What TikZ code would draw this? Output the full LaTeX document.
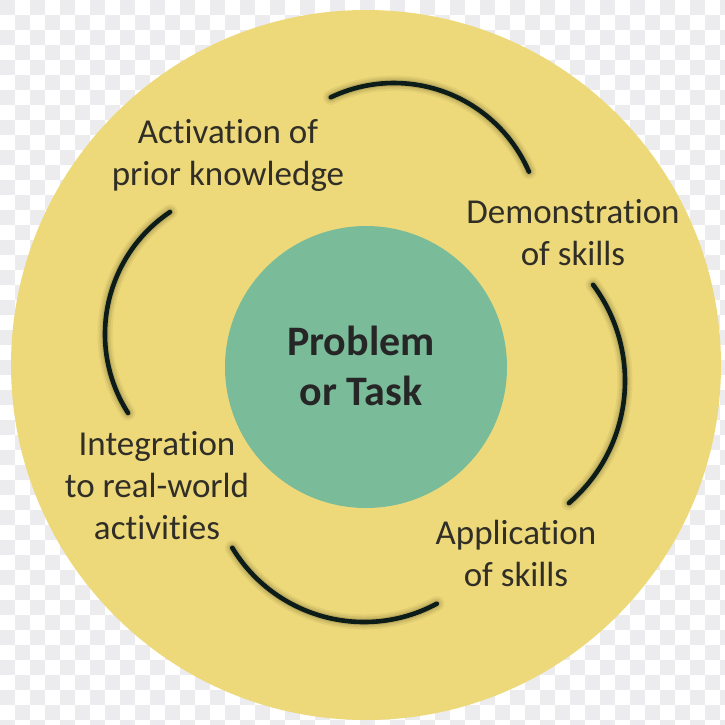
\documentclass[tikz,border=0pt]{standalone}
\usepackage{fontspec}
\setmainfont{Carlito}[Ligatures={NoCommon,NoContextual}]
\definecolor{bgyellow}{RGB}{237,217,122}
\definecolor{corecol}{RGB}{122,188,154}
\definecolor{arccol}{RGB}{12,28,24}
\definecolor{txtcol}{RGB}{48,46,38}
\definecolor{chkcol}{RGB}{236,236,238}
\definecolor{shadowcol}{RGB}{70,60,20}
\tikzset{
  label/.style={align=center, text=txtcol, font=\fontsize{35}{42}\selectfont, inner sep=0pt},
  corelabel/.style={align=center, text=black!85, font=\fontsize{42}{50}\selectfont\bfseries, inner sep=0pt},
  cyclearc/.style={draw=arccol, line width=4.6pt, line cap=round},
  arcshadow/.style={draw=shadowcol, line cap=round},
}
% arc round centre c, radius r, from angle a to angle b (image convention, y down)
\newcommand{\cyclearcpath}[4]{(#1) ++(#3:#2) arc[start angle=#3, end angle=#4, radius=#2]}
\newcommand{\shadowedarc}[4]{%
  \begin{scope}[shift={(4,4)}]
    \draw[arcshadow, line width=15pt, opacity=0.07] \cyclearcpath{#1}{#2}{#3}{#4};
    \draw[arcshadow, line width=11pt, opacity=0.10] \cyclearcpath{#1}{#2}{#3}{#4};
    \draw[arcshadow, line width=7pt, opacity=0.15] \cyclearcpath{#1}{#2}{#3}{#4};
  \end{scope}
  \draw[cyclearc] \cyclearcpath{#1}{#2}{#3}{#4};
}
\newcommand{\ti}{t\kern0pt i}
\begin{document}
\begin{tikzpicture}[x=1pt,y=-1pt]
\useasboundingbox (0,0) rectangle (725,724);
\begin{scope}
\clip (0,0) rectangle (725,724);
\fill[white] (0,0) rectangle (725,724);
\foreach \j in {0,...,48} {
  \pgfmathtruncatemacro\off{mod(\j,2)*15}
  \foreach \i in {0,...,24} {
    \fill[chkcol] ({30*\i+\off},{15*\j}) rectangle +(15,15);
  }
}
\end{scope}
\node[circle, fill=bgyellow, minimum size=710pt, inner sep=0pt] (outer) at (366,365) {};
\node[circle, fill=corecol, minimum size=282pt, inner sep=0pt] (core) at (366,367) {};
\node[corelabel] (task) at (361,366) {Problem\\or Task};
\coordinate (ctop) at (394,230);
\coordinate (cright) at (464,381);
\coordinate (cbottom) at (364,468);
\coordinate (cleft) at (252,334);
\shadowedarc{ctop}{147}{-115.5}{-23.4}
\shadowedarc{cright}{161}{-36.7}{49.3}
\shadowedarc{cbottom}{154}{148.8}{61.8}
\shadowedarc{cleft}{147}{236.1}{147.5}
\node[label] (activation) at (228,155) {Activa\ti on of\\prior knowledge};
\node[label] (demo) at (573,233) {Demonstra\ti on\\of skills};
\node[label] (integration) at (157,486) {Integra\ti on\\to real-world\\ac\ti vi\ti es};
\node[label] (application) at (516,553) {Applica\ti on\\of skills};
\end{tikzpicture}
\end{document}
